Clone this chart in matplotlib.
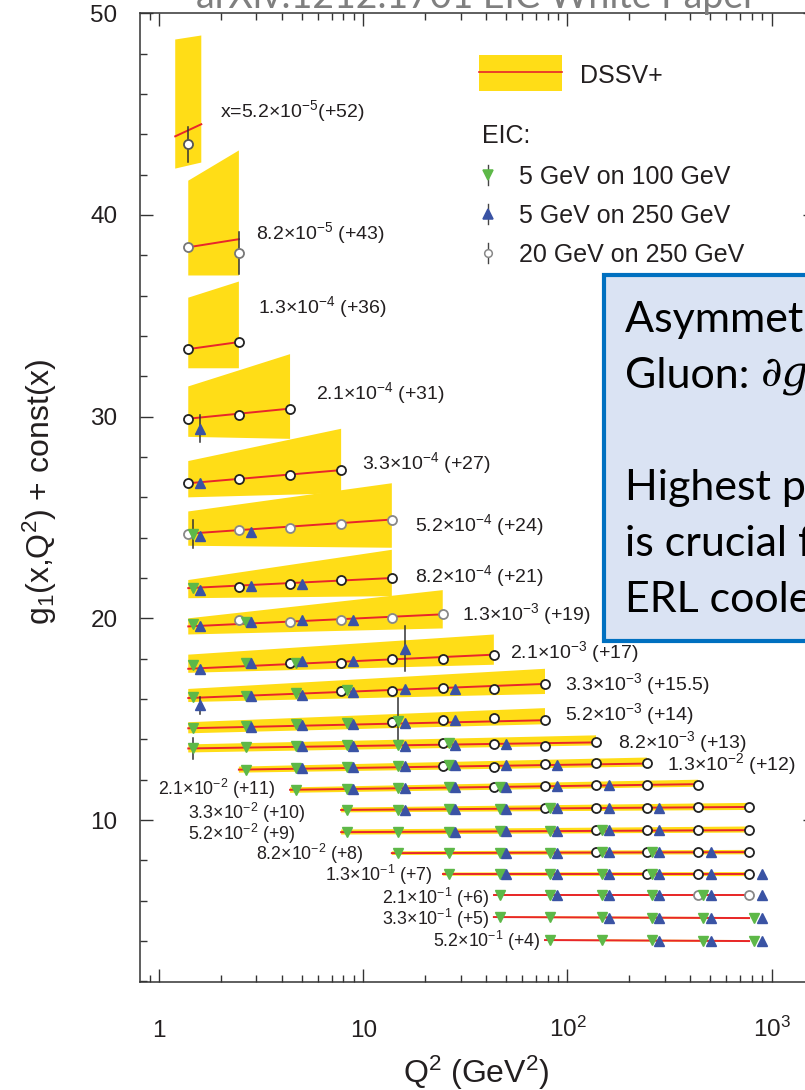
import matplotlib
matplotlib.use("Agg")
import matplotlib.pyplot as plt
from matplotlib.patches import Rectangle
from matplotlib.ticker import MultipleLocator, LogLocator, NullFormatter

plt.rcParams["font.family"] = ["Liberation Sans", "DejaVu Sans"]
plt.rcParams["mathtext.fontset"] = "custom"
plt.rcParams["mathtext.rm"] = "Liberation Sans"
plt.rcParams["mathtext.it"] = "Liberation Sans:italic"
plt.rcParams["mathtext.bf"] = "Liberation Sans:bold"

# Q^2 values (GeV^2) where the pseudo-data sit, for each beam setting
q2_circ = [1.39, 2.46, 4.38, 7.79, 13.8, 24.5, 43.6, 77.6, 138, 245, 436, 775]
q2_green = [1.47, 2.67, 4.68, 8.32, 14.8, 26.3, 46.7, 82.0, 148, 259, 461, 820]
q2_blue = [1.59, 2.82, 5.01, 8.90, 16.0, 28.1, 50.0, 88.9, 160, 281, 504, 897]

x_labels = [
    "x=5.2×10$^{-5}$(+52)", "8.2×10$^{-5}$ (+43)", "1.3×10$^{-4}$ (+36)",
    "2.1×10$^{-4}$ (+31)", "3.3×10$^{-4}$ (+27)", "5.2×10$^{-4}$ (+24)",
    "8.2×10$^{-4}$ (+21)", "1.3×10$^{-3}$ (+19)", "2.1×10$^{-3}$ (+17)",
    "3.3×10$^{-3}$ (+15.5)", "5.2×10$^{-3}$ (+14)", "8.2×10$^{-3}$ (+13)",
    "1.3×10$^{-2}$ (+12)", "2.1×10$^{-2}$ (+11)", "3.3×10$^{-2}$ (+10)",
    "5.2×10$^{-2}$ (+9)", "8.2×10$^{-2}$ (+8)", "1.3×10$^{-1}$ (+7)",
    "2.1×10$^{-1}$ (+6)", "3.3×10$^{-1}$ (+5)", "5.2×10$^{-1}$ (+4)",
]

# DSSV+ band: Q^2 range, central curve, upper and lower edge (value at low / high Q^2)
band_q = [(1.20, 1.61), (1.39, 2.46), (1.39, 2.46), (1.39, 4.38), (1.39, 7.79),
          (1.39, 13.8), (1.39, 13.8), (1.39, 24.5), (1.39, 43.6), (1.39, 77.6),
          (1.39, 77.6), (1.39, 138), (2.46, 245), (4.38, 436), (7.79, 775),
          (7.79, 775), (13.8, 775), (24.5, 775), (43.6, 775), (43.6, 775), (77.6, 775)]
curve_y = [(43.9, 44.5), (38.4, 38.8), (33.35, 33.7), (29.9, 30.4), (26.7, 27.35),
           (24.2, 24.9), (21.5, 22.0), (19.6, 20.2), (17.5, 18.2), (16.05, 16.75),
           (14.55, 14.95), (13.55, 13.85), (12.5, 12.8), (11.5, 11.78), (10.5, 10.65),
           (9.4, 9.5), (8.36, 8.41), (7.32, 7.32), (6.28, 6.28), (5.19, 5.14), (4.05, 4.0)]
band_top = [(48.7, 48.9), (41.7, 43.2), (35.9, 36.7), (31.5, 33.1), (27.8, 29.4),
            (25.3, 26.7), (21.9, 23.4), (20.0, 21.4), (18.2, 19.2), (16.5, 17.5),
            (14.85, 15.55), (13.75, 14.2), (12.65, 13.1), (11.62, 12.0), (10.62, 10.85),
            (9.53, 9.68), (8.45, 8.52), (7.40, 7.42), (6.33, 6.33), (5.23, 5.19), (4.09, 4.05)]
band_bot = [(42.3, 42.6), (37.0, 37.0), (32.4, 32.4), (29.0, 28.9), (26.0, 26.2),
            (23.6, 23.5), (21.0, 21.1), (19.2, 19.5), (17.3, 17.7), (15.85, 16.25),
            (14.3, 14.75), (13.35, 13.7), (12.35, 12.65), (11.35, 11.65), (10.38, 10.5),
            (9.28, 9.38), (8.27, 8.3), (7.24, 7.22), (6.23, 6.23), (5.15, 5.09), (4.01, 3.95)]

# EIC pseudo-data: (index of first Q^2 point, values)
circ_pts = [(0, [43.5]), (0, [38.4, 38.1]), (0, [33.35, 33.7]), (0, [29.9, 30.1, 30.4]),
            (0, [26.7, 26.9, 27.1, 27.35]), (0, [24.2, 24.4, 24.5, 24.7, 24.9]),
            (1, [21.55, 21.7, 21.9, 22.0]), (1, [19.9, 19.8, 19.9, 20.0, 20.2]),
            (2, [17.8, 17.8, 18.0, 18.0, 18.2]), (3, [16.4, 16.4, 16.55, 16.5, 16.75]),
            (4, [14.85, 14.95, 15.05, 14.95]), (5, [13.8, 13.75, 13.65, 13.85]),
            (5, [12.7, 12.65, 12.8, 12.85, 12.85]), (6, [11.65, 11.7, 11.75, 11.75, 11.75]),
            (7, [10.6, 10.6, 10.6, 10.65, 10.65]), (8, [9.5, 9.5, 9.5, 9.5]),
            (8, [8.4, 8.4, 8.4, 8.41]), (9, [7.32, 7.32, 7.32]), (10, [6.28, 6.28]),
            (0, []), (0, [])]
green_pts = [(0, []), (0, []), (0, []), (0, []), (0, []), (0, [24.2]), (0, [21.5]),
             (0, [19.7, 19.8]), (0, [17.7, 17.8, 17.8]), (0, [16.1, 16.15, 16.3, 16.45]),
             (0, [14.55, 14.65, 14.75, 14.8, 14.9]),
             (0, [13.55, 13.6, 13.65, 13.7, 13.7, 13.8]),
             (1, [12.5, 12.6, 12.65, 12.7, 12.75]), (2, [11.5, 11.55, 11.6, 11.65, 11.65]),
             (3, [10.5, 10.5, 10.55, 10.55, 10.6]), (3, [9.4, 9.4, 9.4, 9.45, 9.45, 9.5]),
             (4, [8.36, 8.37, 8.38, 8.39, 8.4, 8.4]), (5, [7.32, 7.32, 7.32, 7.32, 7.32]),
             (6, [6.28, 6.28, 6.28, 6.28, 6.28]), (6, [5.19, 5.18, 5.17, 5.16, 5.15, 5.14]),
             (7, [4.05, 4.04, 4.03, 4.02, 4.0])]
blue_pts = [(0, []), (0, []), (0, []), (0, [29.4]), (0, [26.7]), (0, [24.1, 24.3]),
            (0, [21.4, 21.6, 21.7]), (0, [19.6, 19.8, 19.9, 19.9]),
            (0, [17.5, 17.8, 17.9, 17.9, 18.5]), (0, [15.7, 16.15, 16.2, 16.35, 16.5, 16.5]),
            (1, [14.6, 14.7, 14.75, 14.8, 14.95]), (2, [13.65, 13.65, 13.65, 13.7, 13.75]),
            (2, [12.6, 12.65, 12.7, 12.75, 12.75, 12.75]),
            (3, [11.55, 11.6, 11.65, 11.65, 11.7, 11.75]),
            (4, [10.5, 10.55, 10.55, 10.6, 10.6, 10.6]), (5, [9.4, 9.45, 9.45, 9.5, 9.5]),
            (6, [8.38, 8.39, 8.4, 8.4, 8.41]), (6, [7.32, 7.32, 7.32, 7.32, 7.32, 7.32]),
            (7, [6.28, 6.28, 6.28, 6.28, 6.28]), (8, [5.16, 5.15, 5.15, 5.14]),
            (9, [4.02, 4.01, 4.0])]
# (bin, series, Q^2 index, half error)
err_bars = [(0, "circ", 0, 0.85), (1, "circ", 1, 1.05), (3, "blue", 0, 0.67),
            (5, "green", 0, 0.7), (8, "blue", 4, 1.1), (9, "blue", 0, 0.42),
            (10, "green", 4, 1.15), (11, "green", 0, 0.5)]

# label anchor (Q^2, baseline) for each x bin
label_pos = [(1.99, 44.85), (2.98, 38.8), (3.05, 35.15), (5.87, 30.85), (9.86, 27.4),
             (17.9, 24.35), (17.9, 21.8), (30.4, 19.9), (52.3, 18.05), (97.3, 16.45),
             (97.3, 14.95), (177, 13.55), (307, 12.5), (0.99, 11.25), (1.385, 10.05),
             (1.385, 9.0), (2.98, 8.0), (6.49, 7.0), (12.35, 5.85), (12.35, 4.8), (21.9, 3.7)]
label_size = [14] * 13 + [12.8] * 8
circ_edge = ["#555555", "#777777", "#222222", "#222222", "#222222", "#888888", "#222222",
             "#888888", "#222222", "#222222", "#222222", "#222222", "#222222", "#222222",
             "#222222", "#222222", "#222222", "#222222", "#888888", "#222222", "#222222"]

xtick_vals = [1, 10, 100, 1000]
xtick_text = ["1", "10", "10$^2$", "10$^3$"]

YELLOW = "#FFDD17"
RED = "#E8262B"
GREEN = "#5DB848"
BLUE = "#3A53A4"
INK = "#231F20"
BOXFONT = ["Lato", "DejaVu Sans"]

fig = plt.figure(figsize=(8.05, 10.9), dpi=100)
ax = fig.add_axes([139.6 / 805, 108 / 1090, 676.4 / 805, 968.7 / 1090])
ax.set_xscale("log")
ax.set_xlim(0.803, 1648)
ax.set_ylim(1.97, 50)

series = {"circ": (q2_circ, circ_pts), "green": (q2_green, green_pts), "blue": (q2_blue, blue_pts)}

for i in range(len(x_labels)):
    qlo, qhi = band_q[i]
    ax.fill([qlo, qhi, qhi, qlo],
            [band_top[i][0], band_top[i][1], band_bot[i][1], band_bot[i][0]],
            color=YELLOW, lw=0, zorder=1)
    ax.plot([qlo, qhi], curve_y[i], color=RED, lw=1.4, zorder=2)
    ax.text(label_pos[i][0], label_pos[i][1], x_labels[i], fontsize=label_size[i],
            color=INK, va="baseline", ha="left")

for b, s, k, dy in err_bars:
    grid, pts = series[s]
    k0, ys = pts[b]
    q, y = grid[k], ys[k - k0]
    ax.plot([q, q], [y - dy, y + dy], color="#333333", lw=1.1, zorder=3)

for i in range(len(x_labels)):
    k0, ys = circ_pts[i]
    if ys:
        ax.plot(q2_circ[k0:k0 + len(ys)], ys, ls="none", marker="o", ms=6.5,
                mfc="white", mec=circ_edge[i], mew=1.3, zorder=4)
    k0, ys = green_pts[i]
    if ys:
        ax.plot(q2_green[k0:k0 + len(ys)], ys, ls="none", marker="v", ms=7.5,
                color=GREEN, mec=GREEN, zorder=5)
    k0, ys = blue_pts[i]
    if ys:
        ax.plot(q2_blue[k0:k0 + len(ys)], ys, ls="none", marker="^", ms=7.5,
                color=BLUE, mec=BLUE, zorder=6)

# axes styling
ax.set_xticks(xtick_vals)
ax.set_xticklabels([])
ax.xaxis.set_minor_locator(LogLocator(base=10, subs=range(2, 10), numticks=20))
ax.xaxis.set_minor_formatter(NullFormatter())
ax.yaxis.set_major_locator(MultipleLocator(10))
ax.yaxis.set_minor_locator(MultipleLocator(2))
ax.tick_params(which="both", direction="in", top=True, right=True, color="#333333", width=1)
ax.tick_params(which="major", length=9.5)
ax.tick_params(which="minor", length=5)
ax.tick_params(axis="y", labelsize=17.5, pad=16, labelcolor=INK)
for sp in ax.spines.values():
    sp.set_color("#333333")
    sp.set_linewidth(1.1)
for v, t in zip(xtick_vals, xtick_text):
    ax.text(v, -0.0568, t, transform=ax.get_xaxis_transform(), ha="center",
            va="baseline", fontsize=17.5, color=INK)

# overlay in pixel coordinates for labels, legend, title and note box
ov = fig.add_axes([0, 0, 1, 1], zorder=5)
ov.set_xlim(0, 805)
ov.set_ylim(1090, 0)
ov.axis("off")

ov.text(476, 1083, "Q$^2$ (GeV$^2$)", fontsize=23, ha="center", va="baseline", color=INK)
ov.text(40, 492, "g$_1$(x,Q$^2$) + const(x)", fontsize=23, ha="center", va="center",
        rotation=90, color=INK)

ov.text(476, 8, "arXiv:1212.1701 EIC White Paper", fontsize=27, ha="center",
        va="baseline", color="#7F7F7F", family=BOXFONT)

ov.add_patch(Rectangle((479, 55), 83, 36, color=YELLOW, lw=0))
ov.plot([479, 562], [72, 72], color=RED, lw=1.2)
ov.text(580, 83, "DSSV+", fontsize=18, va="baseline", color=INK)
ov.text(482, 143, "EIC:", fontsize=18, va="baseline", color=INK)
legend_rows = [(175, "v", GREEN, GREEN, "5 GeV on 100 GeV"),
               (214, "^", BLUE, BLUE, "5 GeV on 250 GeV"),
               (253, "o", "white", "#888888", "20 GeV on 250 GeV")]
for y, m, fc, ec, t in legend_rows:
    ov.plot([488, 488], [y - 10, y + 10], color="#444444", lw=1)
    ov.plot([488], [y], marker=m, ms=6.5 if m != "o" else 5.5, mfc=fc, mec=ec, mew=1.1, ls="none")
    ov.text(519, y + 9, t, fontsize=18, va="baseline", color=INK)

ov.add_patch(Rectangle((604, 275), 320, 366, facecolor="#DAE3F3", edgecolor="#0070C0",
                       lw=3.0, clip_on=False))
box_lines = [(332, "Asymmetry A1 measures g1"),
             (500, "Highest possible luminosity"),
             (556, "is crucial for this: needs"),
             (612, "ERL cooler")]
for y, t in box_lines:
    ov.text(625, y, t, fontsize=31, va="baseline", color="black", family=BOXFONT)
g1 = ov.text(625, 388, "Gluon: ", fontsize=31, va="baseline", color="black", family=BOXFONT)
ov.annotate("∂g/∂lnQ²", xy=(1, 0), xycoords=g1, va="bottom", ha="left", fontsize=30,
            style="italic", family=["DejaVu Serif"], color="black")

fig.savefig("out.png", dpi=100)
